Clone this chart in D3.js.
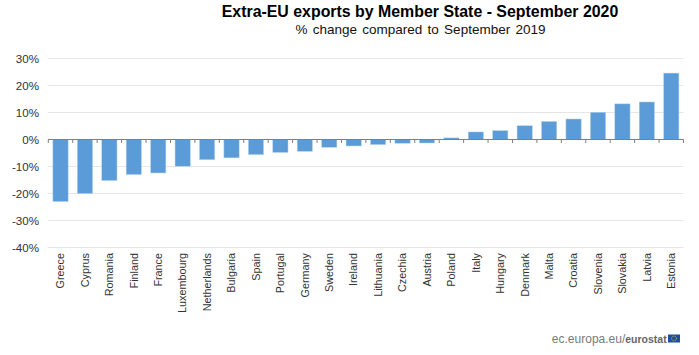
<!DOCTYPE html>
<html><head><meta charset="utf-8">
<script src="https://cdn.jsdelivr.net/npm/d3@7"></script>
<style>html,body{margin:0;padding:0;background:#fff}svg{display:block}text{font-family:"Liberation Sans",Arial,sans-serif}</style>
</head><body><svg id="c" width="699" height="355"></svg>
<script>
const categories=["Greece","Cyprus","Romania","Finland","France","Luxembourg","Netherlands","Bulgaria","Spain","Portugal","Germany","Sweden","Ireland","Lithuania","Czechia","Austria","Poland","Italy","Hungary","Denmark","Malta","Croatia","Slovenia","Slovakia","Latvia","Estonia"];
const values=[-23,-20,-15.2,-13,-12.4,-9.9,-7.5,-6.8,-5.6,-4.8,-4.4,-2.9,-2.4,-1.9,-1.4,-1.3,0.6,2.8,3.3,5.1,6.7,7.6,10.1,13.2,13.9,24.6];
const yTicks=[30,20,10,0,-10,-20,-30,-40];
const titleText="Extra-EU exports by Member State - September 2020";
const subtitleText="% change compared to September 2019";

const svg=d3.select("#c");
const x=d3.scaleBand().domain(categories).range([48.3,683.5]).paddingInner(0.375).paddingOuter(0.1875);
const y=d3.scaleLinear().domain([-40,30]).range([247.5,58.5]);

svg.append("text").attr("x",420).attr("y",16.5).attr("text-anchor","middle").attr("font-size",15.9).attr("font-weight","bold").attr("fill","#000").text(titleText);
svg.append("text").attr("x",420.5).attr("y",34).attr("text-anchor","middle").attr("font-size",13.5).attr("fill","#111").attr("word-spacing",1.5).text(subtitleText);

svg.append("g").selectAll("line").data(yTicks).join("line")
 .attr("x1",48).attr("x2",683.5).attr("y1",d=>y(d)).attr("y2",d=>y(d))
 .attr("stroke","#e6e6e6").attr("stroke-width",1);
svg.append("g").selectAll("text").data(yTicks).join("text")
 .attr("x",39).attr("y",d=>y(d)+4.2).attr("text-anchor","end").attr("font-size",11.6).attr("fill","#333").text(d=>d+"%");

svg.append("g").selectAll("rect").data(values).join("rect")
 .attr("x",(d,i)=>x(categories[i])).attr("width",x.bandwidth())
 .attr("y",d=>y(Math.max(d,0))).attr("height",d=>Math.abs(y(d)-y(0)))
 .attr("fill","#5b9bd7").attr("stroke","#b9d5ee").attr("stroke-width",0.5);

const step=x.step();
const axis=svg.append("g");
axis.append("line").attr("x1",48).attr("x2",683.5).attr("y1",y(0)).attr("y2",y(0)).attr("stroke","#7f7f7f").attr("stroke-width",1);
axis.selectAll("line.t").data(d3.range(categories.length+1)).join("line").attr("class","t")
 .attr("x1",i=>48.3+i*step).attr("x2",i=>48.3+i*step).attr("y1",y(0)).attr("y2",y(0)+3.5)
 .attr("stroke","#7f7f7f").attr("stroke-width",1);

svg.append("g").selectAll("text").data(categories).join("text")
 .attr("transform",d=>`translate(${x(d)+x.bandwidth()/2+3.8},253) rotate(-90)`)
 .attr("text-anchor","end").attr("font-size",10.8).attr("fill","#333").text(d=>d);

const foot=svg.append("text").attr("x",666.7).attr("y",343).attr("text-anchor","end").attr("font-size",12).attr("fill","#7a7a7a");
foot.append("tspan").text("ec.europa.eu/");
foot.append("tspan").attr("font-weight","bold").attr("font-size",10.5).attr("fill","#666").text("eurostat");
svg.append("rect").attr("x",668).attr("y",334.5).attr("width",12).attr("height",8).attr("fill","#1f4f9c");
svg.append("circle").attr("cx",674).attr("cy",338.5).attr("r",2.4).attr("fill","none").attr("stroke","#d9c94a").attr("stroke-width",0.8).attr("stroke-dasharray","1 0.6");
</script></body></html>
